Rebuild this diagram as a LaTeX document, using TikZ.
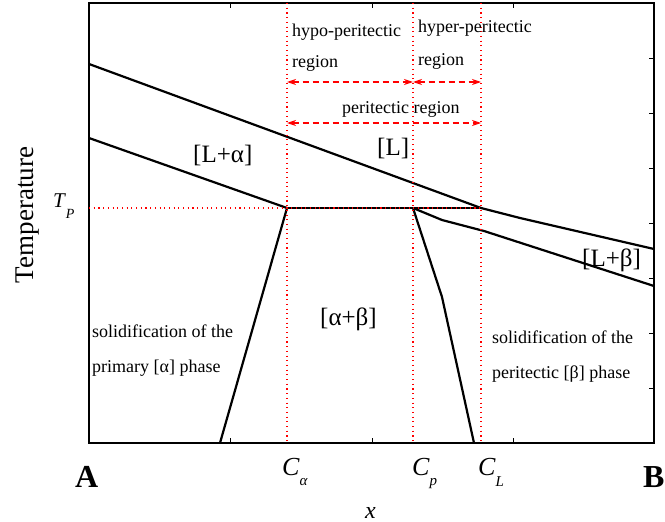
\documentclass[tikz,border=0pt]{standalone}
\usepackage{fontspec}
\setmainfont{Liberation Serif}
\usetikzlibrary{arrows.meta}
\begin{document}
\begin{tikzpicture}[x=1pt,y=-1pt,
  lbl/.style={inner sep=0pt, anchor=base west, font=\fontsize{18}{18}\selectfont},
  phase/.style={inner sep=0pt, anchor=base west, font=\fontsize{25}{25}\selectfont},
  clabel/.style={inner sep=0pt, anchor=base west, font=\fontsize{26}{26}\selectfont\itshape},
  corner/.style={inner sep=0pt, anchor=base west, font=\fontsize{32}{32}\selectfont\bfseries},
  curve/.style={line width=2.2pt, line join=round},
  frame/.style={line width=1.5pt},
  guide/.style={red, line width=1.1pt, dash pattern=on 1.1pt off 3.6pt},
  span/.style={red, line width=1.1pt, dash pattern=on 6pt off 4pt, {Stealth[length=9pt,width=6pt]}-{Stealth[length=9pt,width=6pt]}},
  tick/.style={line width=0.8pt}]
\useasboundingbox (0,0) rectangle (665,522);
% frame corners
\coordinate (tl) at (89,3);
\coordinate (br) at (654,443);
\draw[frame] (tl) rectangle (br);
\draw[line width=2.4pt] (89,3) -- (654,3);
% ticks
\foreach \x in {230,372,513}{
  \draw[tick] (\x,443) -- (\x,438);
  \draw[tick] (\x,3) -- (\x,8);
}
\foreach \y in {58,113,168,223,278,333,388}{
  \draw[tick] (654,\y) -- (649,\y);
}
% key points
\coordinate (liqA) at (89,64);
\coordinate (solA) at (89,138);
\coordinate (pa) at (287,208);
\coordinate (pp) at (413,208);
\coordinate (pl) at (481,208);
\coordinate (liqk) at (520,218);
\coordinate (liqB) at (654,249);
\coordinate (solk1) at (442,220);
\coordinate (solk2) at (484,231);
\coordinate (solB) at (654,286);
\coordinate (abot) at (220,443);
\coordinate (bk) at (442,297);
\coordinate (bbot) at (474,443);
% phase boundaries
\draw[curve] (liqA) -- (pl) -- (liqk) -- (liqB);
\draw[curve] (solA) -- (pa);
\draw[curve] (pa) -- (pl);
\draw[curve] (pp) -- (solk1) -- (solk2) -- (solB);
\draw[curve] (pa) -- (abot);
\draw[curve] (pp) -- (bk) -- (bbot);
% red guides
\coordinate (ca-t) at (287,3);   \coordinate (ca-b) at (287,443);
\coordinate (cp-t) at (413,3);   \coordinate (cp-b) at (413,443);
\coordinate (cl-t) at (481,3);   \coordinate (cl-b) at (481,443);
\coordinate (tp-l) at (89,208);
\draw[guide] (ca-t) -- (ca-b);
\draw[guide] (cp-t) -- (cp-b);
\draw[guide] (cl-t) -- (cl-b);
\draw[guide] (tp-l) -- (pl);
% span arrows
\coordinate (s1a) at (287,82); \coordinate (s1b) at (413,82); \coordinate (s1c) at (481,82);
\coordinate (s2a) at (287,123); \coordinate (s2b) at (481,123);
\draw[span] (s1a) -- (s1b);
\draw[span] (s1b) -- (s1c);
\draw[span] (s2a) -- (s2b);
% region labels
\node[lbl] (hypo1) at (292,36) {hypo-peritectic};
\node[lbl] (hypo2) at (292,67) {region};
\node[lbl] (hyper1) at (418,32) {hyper-peritectic};
\node[lbl] (hyper2) at (418,65) {region};
\node[lbl] (peri) at (342,113) {peritectic region};
% phase labels
\node[phase] (La) at (193,162) {[L+α]};
\node[phase] (L) at (377,155) {[L]};
\node[phase] (Lb) at (582,266) {[L+β]};
\node[phase] (ab) at (320,325) {[α+β]};
\node[lbl] (solL1) at (92,337) {solidification of the};
\node[lbl] (solL2) at (92,372) {primary [α] phase};
\node[lbl] (solR1) at (492,343) {solidification of the};
\node[lbl] (solR2) at (492,378) {peritectic [β] phase};
% axis labels
\node[inner sep=0pt, anchor=base, rotate=90, font=\fontsize{27}{27}\selectfont] (temp) at (33,215) {Temperature};
\node[inner sep=0pt, anchor=base west, font=\fontsize{21}{21}\selectfont\itshape] (tp) at (53,207) {T\kern1pt\raisebox{-11pt}{\fontsize{14}{14}\selectfont P}};
\node[clabel] (ca) at (282,475) {C\raisebox{-10pt}{\fontsize{15}{15}\selectfont α}};
\node[clabel] (cp) at (412,475) {C\raisebox{-10pt}{\fontsize{15}{15}\selectfont p}};
\node[clabel] (cl) at (478,475) {C\raisebox{-11pt}{\fontsize{15}{15}\selectfont L}};
\node[inner sep=0pt, anchor=base west, font=\fontsize{24}{24}\selectfont\itshape] (xl) at (365,518) {x};
\node[corner] (A) at (75,487) {A};
\node[corner] (B) at (643,487) {B};
\end{tikzpicture}
\end{document}
